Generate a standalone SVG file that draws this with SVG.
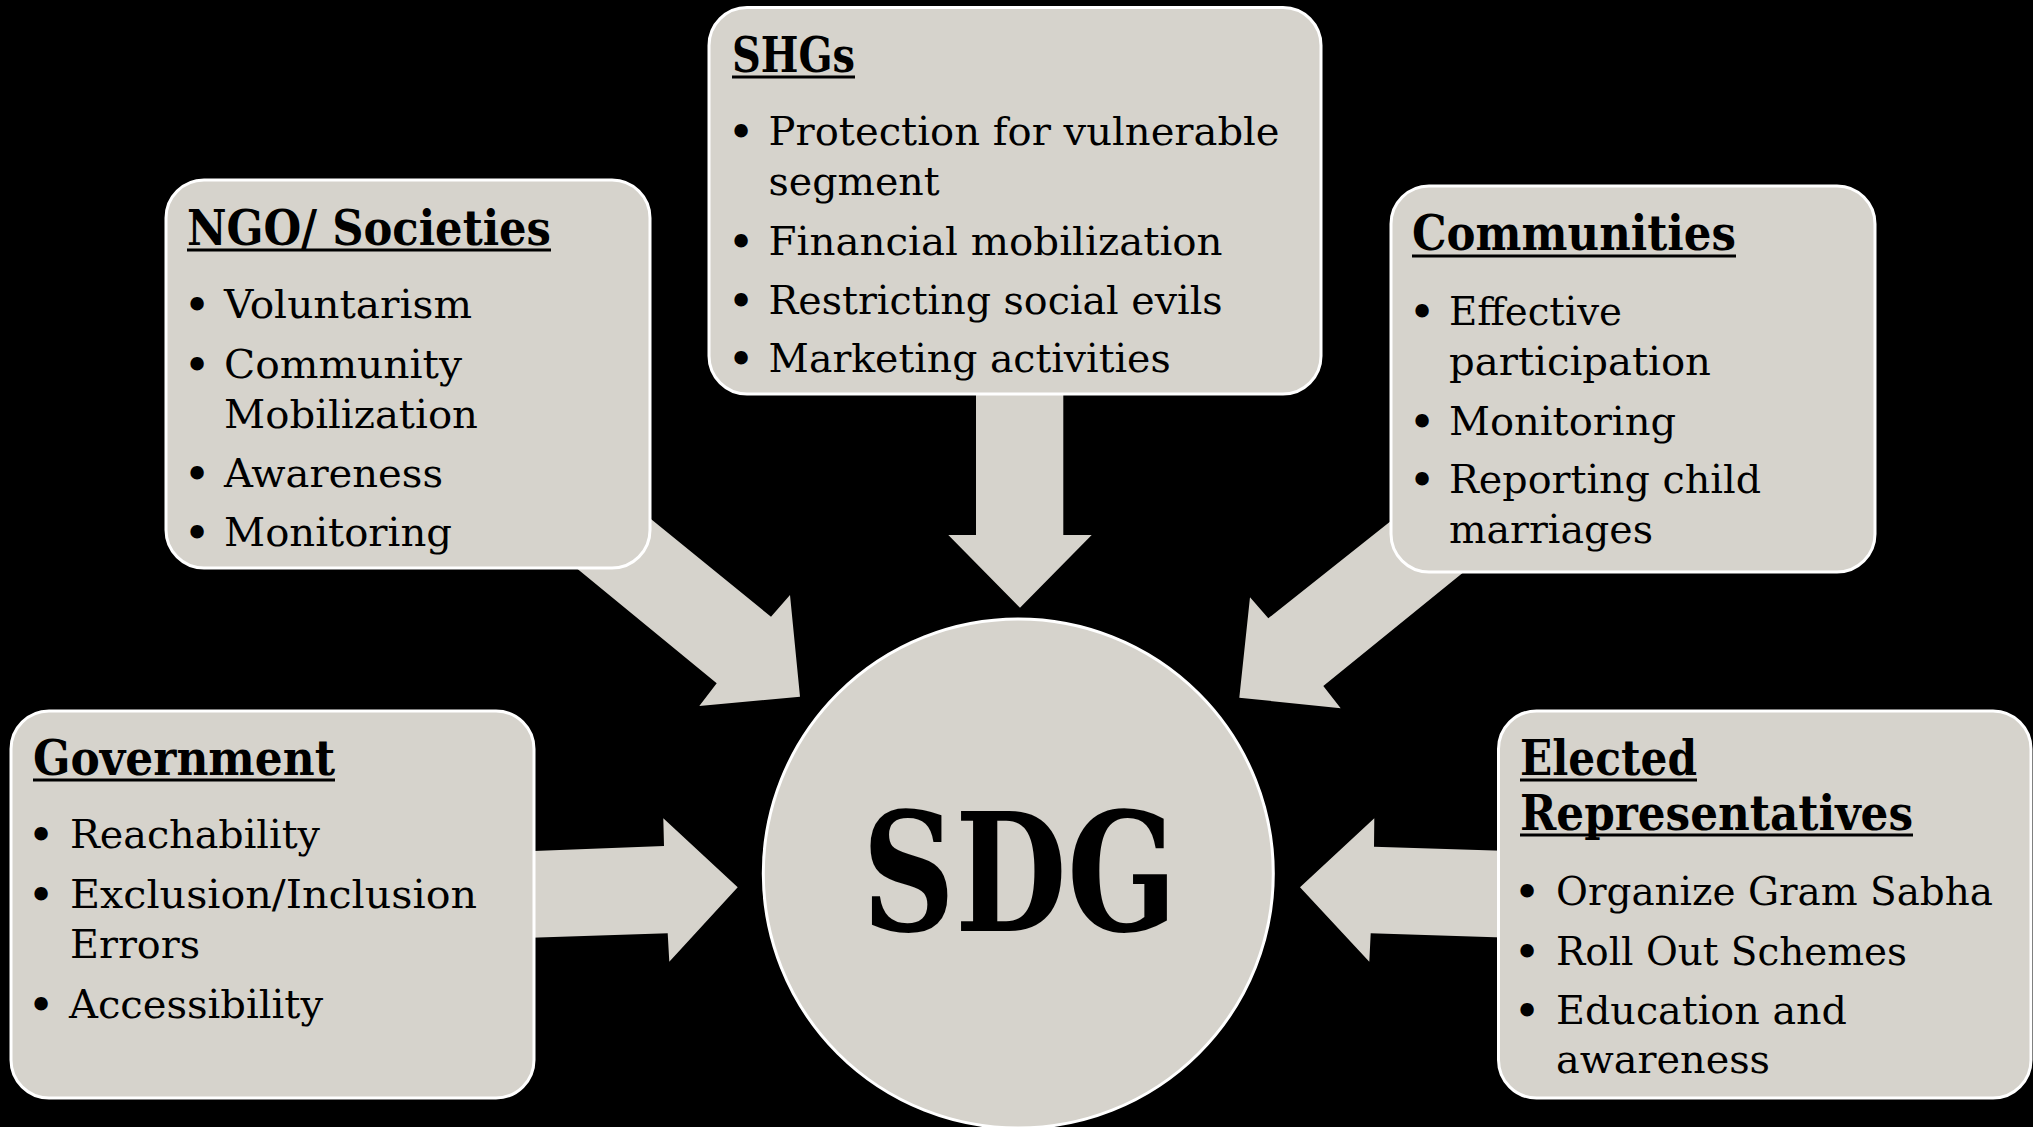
<svg xmlns="http://www.w3.org/2000/svg" width="2033" height="1127" viewBox="0 0 2033 1127">
<style>
.bg{fill:#000}
.box{fill:#d6d3cc;stroke:#fff;stroke-width:3}
.arrow{fill:#d6d3cc}
.t{font-family:'DejaVu Serif','Liberation Serif',serif;fill:#000}
.title{font-size:48px;font-weight:bold}
.item{font-size:40px}
.dot{font-size:46px;text-anchor:middle}
.ul{stroke:#000;stroke-width:3}
.big{font-size:165px;font-weight:bold}
</style>
<rect class="bg" x="0" y="0" width="2033" height="1127"/>
<g id="connectors">
<polygon class="arrow" points="600,477.6 771,616.7 790,595 800,696.7 699.3,706 716.7,683.3 520,521.7"/>
<polygon class="arrow" points="976,360 1063.3,360 1063.3,535 1091.7,535 1020,607.7 948.3,535 976,535"/>
<polygon class="arrow" points="1440,482 1268.3,618.3 1250,597.3 1239.3,697.7 1340.7,708.3 1323.3,686 1530,518.2"/>
<polygon class="arrow" points="480,853.1 664,846 663.3,818.3 737.7,887.3 669.3,961.7 667.7,933.3 480,939.5"/>
<polygon class="arrow" points="1550,852.4 1374,846.7 1374.3,818.3 1300,887.3 1369.3,961.7 1370.7,933.3 1550,938.9"/>
</g>
<g id="sdg">
<ellipse class="box" cx="1018.3" cy="873.5" rx="255" ry="254.5"/>
<text class="t big" x="862" y="931" textLength="315" lengthAdjust="spacingAndGlyphs">SDG</text>
</g>
<g id="ngo">
<rect class="box" x="166" y="180" width="484" height="388" rx="38" ry="38"/>
<text class="t title" x="187" y="245" textLength="364" lengthAdjust="spacingAndGlyphs">NGO/ Societies</text>
<line class="ul" x1="187" y1="250" x2="551" y2="250"/>
<text class="t dot" x="197" y="321">•</text>
<text class="t item" x="224" y="318" textLength="248" lengthAdjust="spacingAndGlyphs">Voluntarism</text>
<text class="t dot" x="197" y="381">•</text>
<text class="t item" x="224" y="378" textLength="238" lengthAdjust="spacingAndGlyphs">Community</text>
<text class="t item" x="224" y="428" textLength="254" lengthAdjust="spacingAndGlyphs">Mobilization</text>
<text class="t dot" x="197" y="490">•</text>
<text class="t item" x="224" y="487" textLength="219" lengthAdjust="spacingAndGlyphs">Awareness</text>
<text class="t dot" x="197" y="549">•</text>
<text class="t item" x="224" y="546" textLength="228" lengthAdjust="spacingAndGlyphs">Monitoring</text>
</g>
<g id="shgs">
<rect class="box" x="709" y="7.5" width="612" height="386.5" rx="38" ry="38"/>
<text class="t title" x="732" y="72" textLength="123" lengthAdjust="spacingAndGlyphs">SHGs</text>
<line class="ul" x1="732" y1="77" x2="855" y2="77"/>
<text class="t dot" x="741" y="148">•</text>
<text class="t item" x="768.6" y="145" textLength="511" lengthAdjust="spacingAndGlyphs">Protection for vulnerable</text>
<text class="t item" x="768.6" y="195" textLength="171" lengthAdjust="spacingAndGlyphs">segment</text>
<text class="t dot" x="741" y="258">•</text>
<text class="t item" x="768.6" y="255" textLength="454" lengthAdjust="spacingAndGlyphs">Financial mobilization</text>
<text class="t dot" x="741" y="317">•</text>
<text class="t item" x="768.6" y="314" textLength="454" lengthAdjust="spacingAndGlyphs">Restricting social evils</text>
<text class="t dot" x="741" y="375">•</text>
<text class="t item" x="768.6" y="372" textLength="402" lengthAdjust="spacingAndGlyphs">Marketing activities</text>
</g>
<g id="communities">
<rect class="box" x="1391" y="186" width="484" height="386" rx="38" ry="38"/>
<text class="t title" x="1412" y="250" textLength="324" lengthAdjust="spacingAndGlyphs">Communities</text>
<line class="ul" x1="1412" y1="256" x2="1736" y2="256"/>
<text class="t dot" x="1422" y="328">•</text>
<text class="t item" x="1449" y="325" textLength="173" lengthAdjust="spacingAndGlyphs">Effective</text>
<text class="t item" x="1449" y="375" textLength="262" lengthAdjust="spacingAndGlyphs">participation</text>
<text class="t dot" x="1422" y="438">•</text>
<text class="t item" x="1449" y="435" textLength="227" lengthAdjust="spacingAndGlyphs">Monitoring</text>
<text class="t dot" x="1422" y="496">•</text>
<text class="t item" x="1449" y="493" textLength="312" lengthAdjust="spacingAndGlyphs">Reporting child</text>
<text class="t item" x="1449" y="543" textLength="204" lengthAdjust="spacingAndGlyphs">marriages</text>
</g>
<g id="government">
<rect class="box" x="11" y="711" width="523" height="387" rx="38" ry="38"/>
<text class="t title" x="33" y="775" textLength="302" lengthAdjust="spacingAndGlyphs">Government</text>
<line class="ul" x1="33" y1="780" x2="335" y2="780"/>
<text class="t dot" x="41" y="851">•</text>
<text class="t item" x="70" y="848" textLength="250" lengthAdjust="spacingAndGlyphs">Reachability</text>
<text class="t dot" x="41" y="911">•</text>
<text class="t item" x="70" y="908" textLength="407" lengthAdjust="spacingAndGlyphs">Exclusion/Inclusion</text>
<text class="t item" x="70" y="958" textLength="130" lengthAdjust="spacingAndGlyphs">Errors</text>
<text class="t dot" x="41" y="1021">•</text>
<text class="t item" x="69" y="1018" textLength="254" lengthAdjust="spacingAndGlyphs">Accessibility</text>
</g>
<g id="elected">
<rect class="box" x="1498.5" y="711" width="532.5" height="387" rx="38" ry="38"/>
<text class="t title" x="1520" y="775" textLength="177" lengthAdjust="spacingAndGlyphs">Elected</text>
<line class="ul" x1="1520" y1="780" x2="1697" y2="780"/>
<text class="t title" x="1520" y="830" textLength="393" lengthAdjust="spacingAndGlyphs">Representatives</text>
<line class="ul" x1="1520" y1="835" x2="1913" y2="835"/>
<text class="t dot" x="1527" y="908">•</text>
<text class="t item" x="1556" y="905" textLength="437" lengthAdjust="spacingAndGlyphs">Organize Gram Sabha</text>
<text class="t dot" x="1527" y="968">•</text>
<text class="t item" x="1556" y="965" textLength="351" lengthAdjust="spacingAndGlyphs">Roll Out Schemes</text>
<text class="t dot" x="1527" y="1027">•</text>
<text class="t item" x="1556" y="1024" textLength="291" lengthAdjust="spacingAndGlyphs">Education and</text>
<text class="t item" x="1556" y="1073" textLength="214" lengthAdjust="spacingAndGlyphs">awareness</text>
</g>
</svg>
